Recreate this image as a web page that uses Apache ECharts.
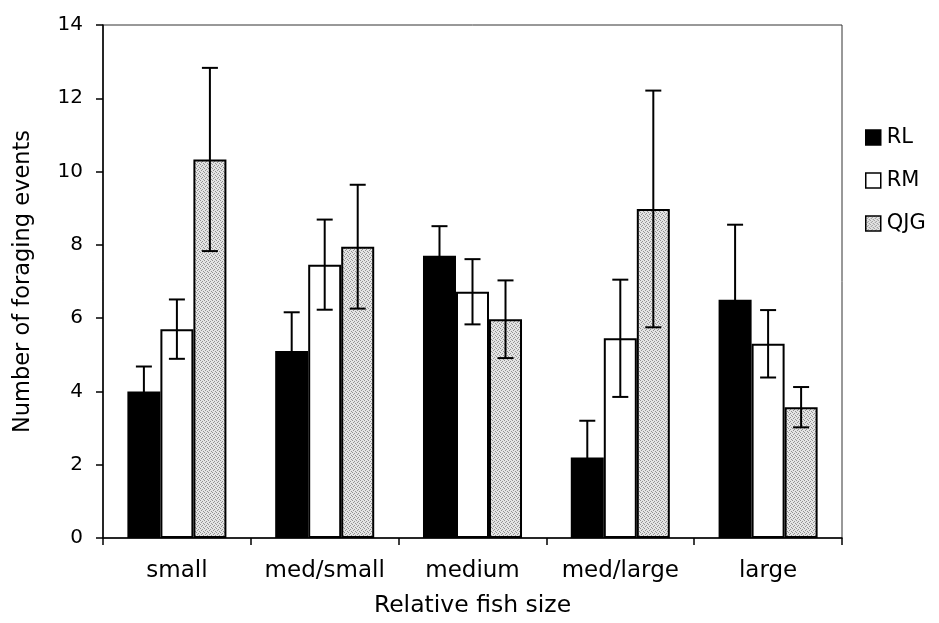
<!DOCTYPE html>
<html>
<head>
<meta charset="utf-8">
<script src="https://cdn.jsdelivr.net/npm/echarts@6/dist/echarts.min.js"></script>
<style>html,body{margin:0;padding:0;background:#fff;}#c{width:939px;height:623px;}</style>
</head>
<body>
<div id="c"></div>
<script>
const categories = ['small', 'med/small', 'medium', 'med/large', 'large'];
const seriesNames = ['RL', 'RM', 'QJG'];
const rlMeans = [4.0, 5.1, 7.7, 2.2, 6.5];
const rlErrors = [0.68, 1.06, 0.81, 1.0, 2.05];
const rmMeans = [5.7, 7.46, 6.72, 5.45, 5.3];
const rmErrors = [0.81, 1.23, 0.89, 1.6, 0.92];
const qjgMeans = [10.33, 7.95, 5.97, 8.98, 3.57];
const qjgErrors = [2.5, 1.69, 1.06, 3.23, 0.55];
const yTicks = [0, 2, 4, 6, 8, 10, 12, 14];

const FONT = 'DejaVu Sans';
const CAT_GAP = 0.33;

// stipple texture for QJG bars
const pat = document.createElement('canvas');
pat.width = 4; pat.height = 4;
const pc = pat.getContext('2d');
pc.fillStyle = '#e4e4e4'; pc.fillRect(0, 0, 4, 4);
pc.fillStyle = '#929292';
[[0,0],[2,1],[1,2],[3,3]].forEach(p => pc.fillRect(p[0], p[1], 1, 1));
const qjgFill = { image: pat, repeat: 'repeat' };

const means = [rlMeans, rmMeans, qjgMeans];
const errs = [rlErrors, rmErrors, qjgErrors];
const fills = ['#000000', '#ffffff', qjgFill];

function errRenderer(k) {
  return function (params, api) {
    const ci = api.value(0);
    const hi = api.coord([ci, api.value(2)]);
    const lo = api.coord([ci, api.value(1)]);
    const band = api.size([1, 0])[0];
    const bw = band * (1 - CAT_GAP) / 3;
    const x = hi[0] + (k - 1) * bw;
    const cap = 8;
    const st = { stroke: '#000', lineWidth: 2 };
    return {
      type: 'group',
      children: [
        { type: 'line', shape: { x1: x, y1: hi[1], x2: x, y2: lo[1] }, style: st },
        { type: 'line', shape: { x1: x - cap, y1: hi[1], x2: x + cap, y2: hi[1] }, style: st },
        { type: 'line', shape: { x1: x - cap, y1: lo[1], x2: x + cap, y2: lo[1] }, style: st }
      ]
    };
  };
}

const series = [];
seriesNames.forEach((name, k) => {
  series.push({
    name: name,
    type: 'bar',
    data: means[k],
    barGap: '0%',
    barCategoryGap: (CAT_GAP * 100) + '%',
    itemStyle: { color: fills[k], borderColor: '#000', borderWidth: 2 },
    z: 2
  });
});
seriesNames.forEach((name, k) => {
  series.push({
    type: 'custom',
    renderItem: errRenderer(k),
    data: means[k].map((m, i) => [i, m - errs[k][i], m + errs[k][i]]),
    z: 5,
    silent: true
  });
});

const chart = echarts.init(document.getElementById('c'), null, { renderer: 'canvas' });
chart.setOption({
  animation: false,
  backgroundColor: '#fff',
  textStyle: { fontFamily: FONT, color: '#000' },
  grid: { left: 103, right: 97, top: 25, bottom: 82, show: true, borderColor: '#333', borderWidth: 1, containLabel: false },
  legend: {
    orient: 'vertical',
    left: 860,
    top: 122,
    icon: 'rect',
    itemWidth: 15,
    itemHeight: 15,
    itemGap: 22,
    data: seriesNames,
    itemStyle: { borderColor: '#000', borderWidth: 1.5 },
    textStyle: { fontFamily: FONT, fontSize: 21, color: '#000', padding: [0, 0, 0, 1] }
  },
  xAxis: {
    type: 'category',
    data: categories,
    name: 'Relative fish size',
    nameLocation: 'middle',
    nameGap: 56,
    nameTextStyle: { fontFamily: FONT, fontSize: 23.5, color: '#000' },
    axisLine: { lineStyle: { color: '#000', width: 1.5 } },
    axisTick: { show: true, interval: 0, length: 7, lineStyle: { color: '#000', width: 1.5 } },
    axisLabel: { interval: 0, fontFamily: FONT, fontSize: 23, color: '#000', margin: 22 },
    splitLine: { show: false }
  },
  yAxis: {
    type: 'value',
    min: yTicks[0],
    max: yTicks[yTicks.length - 1],
    interval: 2,
    name: 'Number of foraging events',
    nameLocation: 'middle',
    nameGap: 68,
    nameTextStyle: { fontFamily: FONT, fontSize: 22.5, color: '#000' },
    axisLine: { show: true, lineStyle: { color: '#000', width: 1.5 } },
    axisTick: { show: true, length: 7, lineStyle: { color: '#000', width: 1.5 } },
    axisLabel: { fontFamily: FONT, fontSize: 20, color: '#000', margin: 20 },
    splitLine: { show: false }
  },
  series: series
});
</script>
</body>
</html>
